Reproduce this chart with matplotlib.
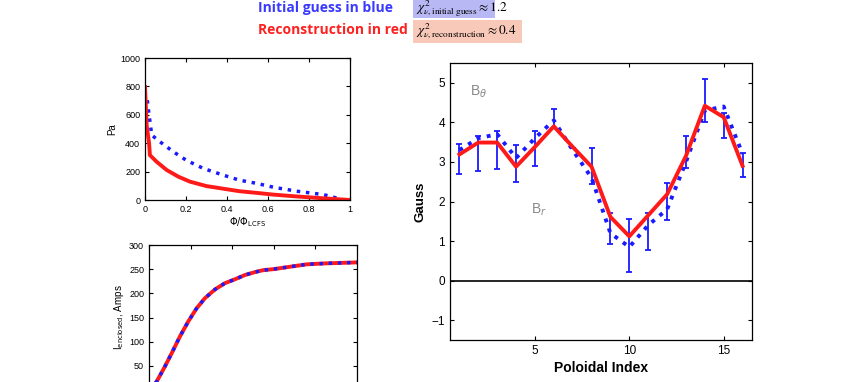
import matplotlib
matplotlib.use("Agg")
import matplotlib.pyplot as plt
from matplotlib.patches import Rectangle

# ---- data ----
# pressure profile (Pa) vs normalized flux
p_red_x = [0.0, 0.008, 0.02, 0.024, 0.057, 0.106, 0.163, 0.22, 0.30, 0.38, 0.46, 0.545, 0.626, 0.74, 0.87, 1.0]
p_red_y = [796, 527, 398, 316, 269, 211, 164, 129, 98, 80, 62, 50, 38, 25, 12, 0]
p_blue_x = [0.011, 0.02, 0.033, 0.073, 0.138, 0.20, 0.285, 0.38, 0.46, 0.545, 0.626, 0.74, 0.87, 0.935, 0.97]
p_blue_y = [703, 597, 457, 410, 340, 281, 222, 176, 140, 117, 90, 62, 38, 14, 0]

# enclosed current (Amps) vs normalized flux
i_x = [0.0, 0.037, 0.077, 0.109, 0.149, 0.189, 0.229, 0.269, 0.317, 0.365, 0.413, 0.462, 0.51, 0.55, 0.598, 0.758, 0.85, 1.0]
i_y = [0, 17.5, 49, 76, 111, 142, 169, 190, 208, 221, 229, 238, 244, 248, 250, 260, 262, 264]

# magnetic probes
idx = list(range(1, 17))
b_meas = [3.08, 3.22, 3.30, 2.97, 3.33, 4.10, 3.35, 2.90, 1.32, 0.89, 1.24, 2.01, 3.25, 4.55, 3.92, 2.92]
b_err = [0.38, 0.44, 0.47, 0.47, 0.44, 0.24, 0.0, 0.45, 0.39, 0.68, 0.46, 0.47, 0.40, 0.55, 0.32, 0.30]
b_init = [3.30, 3.60, 3.70, 3.10, 3.60, 4.05, 3.30, 2.60, 1.20, 0.85, 1.40, 1.80, 3.00, 4.30, 4.40, 3.20]
b_recon = [3.19, 3.49, 3.49, 2.88, 3.38, 3.90, 3.38, 2.88, 1.61, 1.12, 1.65, 2.18, 3.15, 4.42, 4.13, 2.90]

W, H = 847, 382
fig = plt.figure(figsize=(W / 100, H / 100), dpi=100)
plt.rcParams['font.family'] = ['Liberation Sans', 'DejaVu Sans']

def fx(px):
    return px / W

def fy(py):
    return 1 - py / H

def style(ax, fs):
    ax.tick_params(direction='in', top=True, right=True, labelsize=fs, length=3, width=0.8)
    for s in ax.spines.values():
        s.set_linewidth(0.9)

BLUE = '#1a1aff'
RED = '#ff1a1a'

# top-left: pressure
ax1 = fig.add_axes([fx(145), fy(200), fx(350) - fx(145), (200 - 58) / H])
ax1.plot(p_blue_x, p_blue_y, color=BLUE, ls=':', lw=2.5)
ax1.plot(p_red_x, p_red_y, color=RED, lw=2.8)
ax1.set_xlim(0, 1)
ax1.set_ylim(0, 1000)
ax1.set_xticks([0, 0.2, 0.4, 0.6, 0.8, 1])
ax1.set_xticklabels(['0', '0.2', '0.4', '0.6', '0.8', '1'])
ax1.set_yticks([0, 200, 400, 600, 800, 1000])
style(ax1, 6.5)
ax1.set_ylabel('Pa', fontsize=7, labelpad=2)
ax1.set_xlabel(r'$\Phi/\Phi_{\mathrm{LCFS}}$', fontsize=7, labelpad=1)

# bottom-left: enclosed current (its lower part falls outside the figure)
ax2 = fig.add_axes([fx(149), fy(390), fx(357) - fx(149), (390 - 245) / H])
ax2.plot(i_x, i_y, color=RED, lw=2.8)
ax2.plot(i_x, i_y, color=BLUE, ls=':', lw=2.5)
ax2.set_xlim(0, 1)
ax2.set_ylim(0, 300)
ax2.set_xticks([0, 0.2, 0.4, 0.6, 0.8, 1])
ax2.set_yticks([50, 100, 150, 200, 250, 300])
style(ax2, 6.5)
ax2.tick_params(labelbottom=False)
ax2.set_ylabel(r'I$_{\mathrm{enclosed}}$, Amps', fontsize=7, labelpad=2)

# right: magnetic diagnostics
ax3 = fig.add_axes([fx(450), fy(340), fx(752) - fx(450), (340 - 63) / H])
ax3.axhline(0, color='black', lw=1.2)
ax3.errorbar(idx, b_meas, yerr=b_err, fmt='none', ecolor=BLUE, elinewidth=1.3, capsize=2.5, capthick=1.3)
ax3.plot(idx, b_init, color=BLUE, ls=':', lw=2.8)
ax3.plot(idx, b_recon, color=RED, lw=2.8)
ax3.set_xlim(0.5, 16.5)
ax3.set_ylim(-1.5, 5.5)
ax3.set_xticks([5, 10, 15])
ax3.set_yticks([-1, 0, 1, 2, 3, 4, 5])
style(ax3, 8.5)
ax3.set_ylabel('Gauss', fontsize=9.5, fontweight='bold', labelpad=4)
ax3.set_xlabel('Poloidal Index', fontsize=10, fontweight='bold', labelpad=3)
ax3.text(1.55, 4.77, r'B$_\theta$', color='#8a8a8a', fontsize=10, va='center')
ax3.text(4.8, 1.8, r'B$_r$', color='#8a8a8a', fontsize=10, va='center')

# header texts
fig.text(fx(258), fy(8), 'Initial guess in blue', color='#3a3aff', fontsize=10,
         fontweight='bold', va='center', ha='left', family=['Open Sans', 'DejaVu Sans'])
fig.text(fx(258), fy(30), 'Reconstruction in red', color='#ff2020', fontsize=10,
         fontweight='bold', va='center', ha='left', family=['Open Sans', 'DejaVu Sans'])

fig.patches.append(Rectangle((fx(413), fy(18)), fx(495) - fx(413), 18 / H,
                             transform=fig.transFigure, facecolor='#b8b8f4', edgecolor='none', zorder=0))
fig.patches.append(Rectangle((fx(413), fy(43)), fx(522) - fx(413), 23 / H,
                             transform=fig.transFigure, facecolor='#f8c8b8', edgecolor='none', zorder=0))
fig.text(fx(416), fy(9), r'$\chi^2_{\nu,\mathrm{initial\ guess}}\approx 1.2$', fontsize=9.5,
         va='center', ha='left', math_fontfamily='stix')
fig.text(fx(416), fy(31), r'$\chi^2_{\nu,\mathrm{reconstruction}}\approx 0.4$', fontsize=9.5,
         va='center', ha='left', math_fontfamily='stix')

fig.savefig('out.png', dpi=100)
